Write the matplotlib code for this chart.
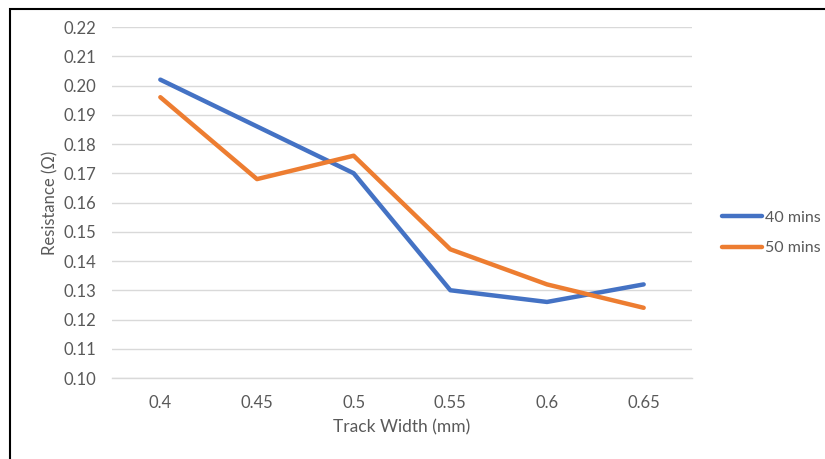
import matplotlib
matplotlib.use("Agg")
import matplotlib.pyplot as plt
from matplotlib.patches import Rectangle

widths = ["0.4", "0.45", "0.5", "0.55", "0.6", "0.65"]
res_40 = [0.202, 0.186, 0.170, 0.130, 0.126, 0.132]
res_50 = [0.196, 0.168, 0.176, 0.144, 0.132, 0.124]
yticks = [0.10, 0.11, 0.12, 0.13, 0.14, 0.15, 0.16, 0.17, 0.18, 0.19, 0.20, 0.21, 0.22]

plt.rcParams['font.family'] = ['Lato', 'DejaVu Sans']
text_col = '#595959'
grid_col = '#d9d9d9'

fig = plt.figure(figsize=(8.25, 4.59), dpi=100)
ax = fig.add_axes([112 / 825, 1 - 378 / 459, 580 / 825, 351 / 459])

x = list(range(len(widths)))
ax.plot(x, res_40, color='#4472C4', lw=3.2, solid_capstyle='round', solid_joinstyle='round',
        label='40 mins', zorder=3)
ax.plot(x, res_50, color='#ED7D31', lw=3.2, solid_capstyle='round', solid_joinstyle='round',
        label='50 mins', zorder=3)

ax.set_xlim(-0.5, len(widths) - 0.5)
ax.set_ylim(0.10, 0.22)
ax.set_xticks(x)
ax.set_xticklabels(widths)
ax.set_yticks(yticks)
ax.set_yticklabels(['%.2f' % v for v in yticks])
ax.yaxis.grid(True, color=grid_col, lw=1)
ax.set_axisbelow(True)
for s in ['top', 'right', 'left']:
    ax.spines[s].set_visible(False)
ax.spines['bottom'].set_color(grid_col)
ax.spines['bottom'].set_linewidth(1)
ax.tick_params(length=0, labelsize=12, labelcolor=text_col)
ax.tick_params(axis='y', pad=11)
ax.tick_params(axis='x', pad=12)

ax.set_xlabel('Track Width (mm)', fontsize=12.5, color=text_col, labelpad=6)
ax.set_ylabel('Resistance (Ω)', fontsize=12, color=text_col, labelpad=4)

leg = ax.legend(loc='center left', bbox_to_anchor=(1.0266, 0.413), frameon=False,
                fontsize=11.5, handlelength=2.5, handletextpad=0.2, labelspacing=1.0)
for t in leg.get_texts():
    t.set_color(text_col)

# chart border (cropped on right and bottom)
fig.patches.append(Rectangle((10 / 825, -0.1), 1.2, 1 - 9 / 459 + 0.1, transform=fig.transFigure,
                             fill=False, edgecolor='black', lw=1.5))

fig.savefig('out.png', dpi=100)
